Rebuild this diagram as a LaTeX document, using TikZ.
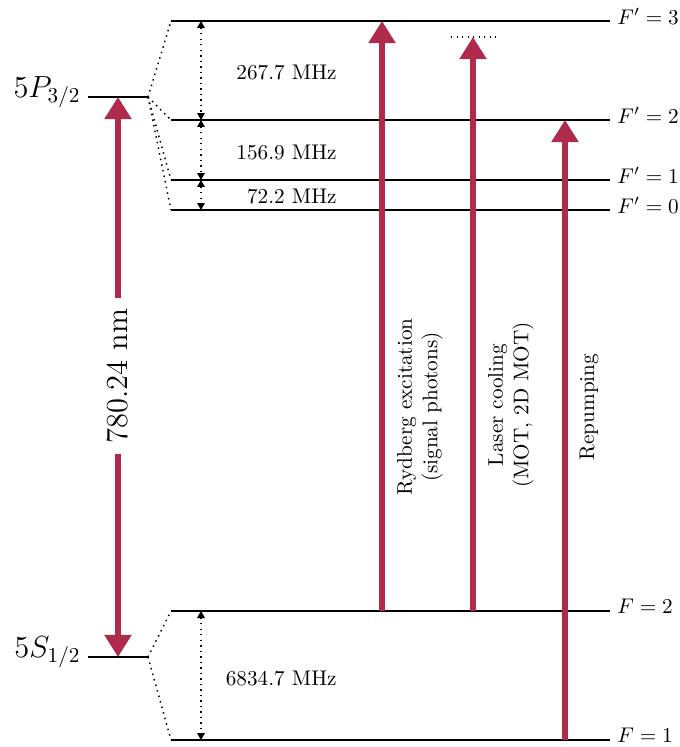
\documentclass[tikz,border=0pt]{standalone}
\usetikzlibrary{arrows.meta}
\definecolor{laser}{RGB}{174,43,76}
\begin{document}
\begin{tikzpicture}[x=0.4717pt,y=-0.4717pt,
  level/.style={line width=0.8pt},
  split/.style={dotted, line width=0.7pt},
  gap/.style={dotted, line width=0.6pt, {Triangle[length=3.3pt,width=3.6pt]}-{Triangle[length=3.3pt,width=3.6pt]}},
  beam/.style={laser, line width=2.4pt, -{Triangle[length=10.4pt,width=12.3pt]}},
  beamboth/.style={laser, line width=2.4pt, {Triangle[length=10.4pt,width=12.3pt]}-{Triangle[length=10.4pt,width=12.3pt]}},
  flabel/.style={anchor=west, inner sep=3.3pt, yshift=2.2pt},
  mhz/.style={anchor=east, inner sep=0pt},
  blabel/.style={rotate=90, align=center, inner sep=0pt}
]
\useasboundingbox (0,0) rectangle (680,747);
% fine-structure levels
\coordinate (Pl) at (88,97);  \coordinate (Pr) at (148,97);
\coordinate (Sl) at (88,657); \coordinate (Sr) at (148,657);
% hyperfine levels
\coordinate (F3l) at (171,21);  \coordinate (F3r) at (610,21);
\coordinate (F2l) at (171,120); \coordinate (F2r) at (610,120);
\coordinate (F1l) at (171,180); \coordinate (F1r) at (610,180);
\coordinate (F0l) at (171,210); \coordinate (F0r) at (610,210);
\coordinate (G2l) at (171,611); \coordinate (G2r) at (610,611);
\coordinate (G1l) at (171,740); \coordinate (G1r) at (610,740);

\draw[level] (Pl) -- (Pr);
\node[anchor=base east, inner sep=3.3pt, font=\Large] (Plab) at (Pl) {$5P_{3/2}$};
\draw[level] (Sl) -- (Sr);
\node[anchor=base east, inner sep=3.3pt, font=\Large] (Slab) at (Sl) {$5S_{1/2}$};

\draw[level] (F3l) -- (F3r); \node[flabel] (L3) at (F3r) {$F'=3$};
\draw[level] (F2l) -- (F2r); \node[flabel] (L2) at (F2r) {$F'=2$};
\draw[level] (F1l) -- (F1r); \node[flabel] (L1) at (F1r) {$F'=1$};
\draw[level] (F0l) -- (F0r); \node[flabel] (L0) at (F0r) {$F'=0$};
\draw[level] (G2l) -- (G2r); \node[flabel] (K2) at (G2r) {$F=2$};
\draw[level] (G1l) -- (G1r); \node[flabel] (K1) at (G1r) {$F=1$};

% splitting
\draw[split] (Pr) -- (F3l);
\draw[split] (Pr) -- (F2l);
\draw[split] (Pr) -- (F1l);
\draw[split] (Pr) -- (F0l);
\draw[split] (Sr) -- (G2l);
\draw[split] (Sr) -- (G1l);

% gaps
\coordinate (a3) at (201,21); \coordinate (a2) at (201,120);
\coordinate (a1) at (201,180); \coordinate (a0) at (201,210);
\coordinate (b2) at (201,611); \coordinate (b1) at (201,740);
\draw[gap] (a3) -- (a2);
\draw[gap] (a2) -- (a1);
\draw[gap] (a1) -- (a0);
\draw[gap] (b2) -- (b1);
\node[mhz] (m1) at (337,72) {267.7 MHz};
\node[mhz] (m2) at (337,152) {156.9 MHz};
\node[mhz] (m3) at (337,196) {72.2 MHz};
\node[mhz] (m4) at (337,678) {6834.7 MHz};

% D2 transition
\coordinate (dt) at (118,97); \coordinate (db) at (118,657);
\draw[beamboth] (db) -- (dt);
\node[rotate=90, fill=white, inner sep=5pt, font=\Large] (dl) at (118,376) {780.24 nm};

% lasers
\coordinate (r0) at (382,611); \coordinate (r1) at (382,21);
\draw[beam] (r0) -- (r1);
\coordinate (c0) at (473,611); \coordinate (c1) at (473,37);
\coordinate (cdl) at (451,37); \coordinate (cdr) at (497,37);
\draw[dotted, line width=0.6pt] (cdl) -- (cdr);
\draw[beam] (c0) -- (c1);
\coordinate (p0) at (565,740); \coordinate (p1) at (565,120);
\draw[beam] (p0) -- (p1);

\node[blabel] (rl) at (420,407) {Rydberg excitation\\(signal photons)};
\node[blabel] (cl) at (511,405) {Laser cooling\\(MOT, 2D MOT)};
\node[blabel] (pl) at (589,407) {Repumping};
\end{tikzpicture}
\end{document}
